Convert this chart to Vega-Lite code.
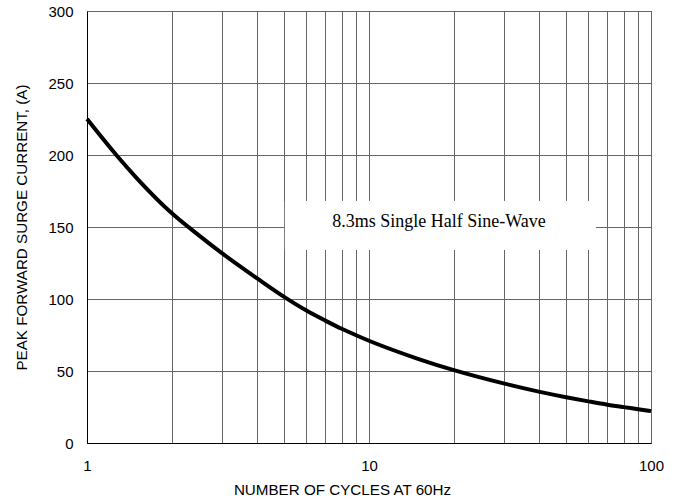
{
  "$schema": "https://vega.github.io/schema/vega-lite/v6.json",
  "width": 564,
  "height": 432,
  "autosize": {"type": "none"},
  "padding": {"left": 87, "top": 11, "right": 28, "bottom": 61},
  "background": "white",
  "config": {
    "font": "Liberation Sans",
    "view": {"stroke": "black", "strokeWidth": 1},
    "axis": {
      "domainColor": "black",
      "ticks": false,
      "gridColor": "#666666",
      "gridOpacity": 1,
      "gridWidth": 1,
      "labelFont": "Liberation Sans",
      "labelFontSize": 15,
      "labelColor": "black",
      "titleFont": "Liberation Sans",
      "titleFontSize": 15.2,
      "titleFontWeight": "normal",
      "titleColor": "black"
    }
  },
  "layer": [
    {
      "data": {
        "values": [
          {"cycles": 1, "current": 225},
          {"cycles": 1.27, "current": 200},
          {"cycles": 1.5, "current": 184},
          {"cycles": 2, "current": 159.5},
          {"cycles": 2.5, "current": 144},
          {"cycles": 3, "current": 132},
          {"cycles": 4, "current": 114.5},
          {"cycles": 5, "current": 101.5},
          {"cycles": 6, "current": 92},
          {"cycles": 7, "current": 85},
          {"cycles": 8, "current": 79.3},
          {"cycles": 9, "current": 74.8},
          {"cycles": 10, "current": 71},
          {"cycles": 15, "current": 58.3},
          {"cycles": 20, "current": 50.6},
          {"cycles": 30, "current": 41.4},
          {"cycles": 40, "current": 35.7},
          {"cycles": 50, "current": 31.8},
          {"cycles": 60, "current": 28.9},
          {"cycles": 70, "current": 26.6},
          {"cycles": 80, "current": 24.9},
          {"cycles": 90, "current": 23.5},
          {"cycles": 100, "current": 22.2}
        ]
      },
      "mark": {"type": "line", "color": "black", "strokeWidth": 4, "interpolate": "monotone"},
      "encoding": {
        "x": {
          "field": "cycles",
          "type": "quantitative",
          "scale": {"type": "log", "domain": [1, 100]},
          "axis": {
            "title": "NUMBER OF CYCLES AT 60Hz",
            "values": [1, 2, 3, 4, 5, 6, 7, 8, 9, 10, 20, 30, 40, 50, 60, 70, 80, 90, 100],
            "labelExpr": "datum.value == 1 || datum.value == 10 || datum.value == 100 ? format(datum.value, 'd') : ''",
            "labelPadding": 15,
            "titlePadding": 9,
            "titleX": 255,
            "labelFlush": false,
            "labelOverlap": false
          }
        },
        "y": {
          "field": "current",
          "type": "quantitative",
          "scale": {"domain": [0, 300], "nice": false},
          "axis": {
            "title": "PEAK FORWARD SURGE CURRENT, (A)",
            "values": [0, 50, 100, 150, 200, 250, 300],
            "labelPadding": 14,
            "titlePadding": 18
          }
        }
      }
    },
    {
      "data": {"values": [{}]},
      "mark": {"type": "rect", "fill": "white"},
      "encoding": {
        "x": {"datum": 5.03, "type": "quantitative"},
        "x2": {"datum": 63.8},
        "y": {"datum": 168, "type": "quantitative"},
        "y2": {"datum": 134}
      }
    },
    {
      "data": {"values": [{}]},
      "mark": {"type": "text", "font": "Liberation Serif", "fontSize": 18, "color": "black", "align": "center", "baseline": "alphabetic"},
      "encoding": {
        "x": {"datum": 17.7, "type": "quantitative"},
        "y": {"datum": 150, "type": "quantitative"},
        "text": {"value": "8.3ms Single Half Sine-Wave"}
      }
    }
  ]
}
